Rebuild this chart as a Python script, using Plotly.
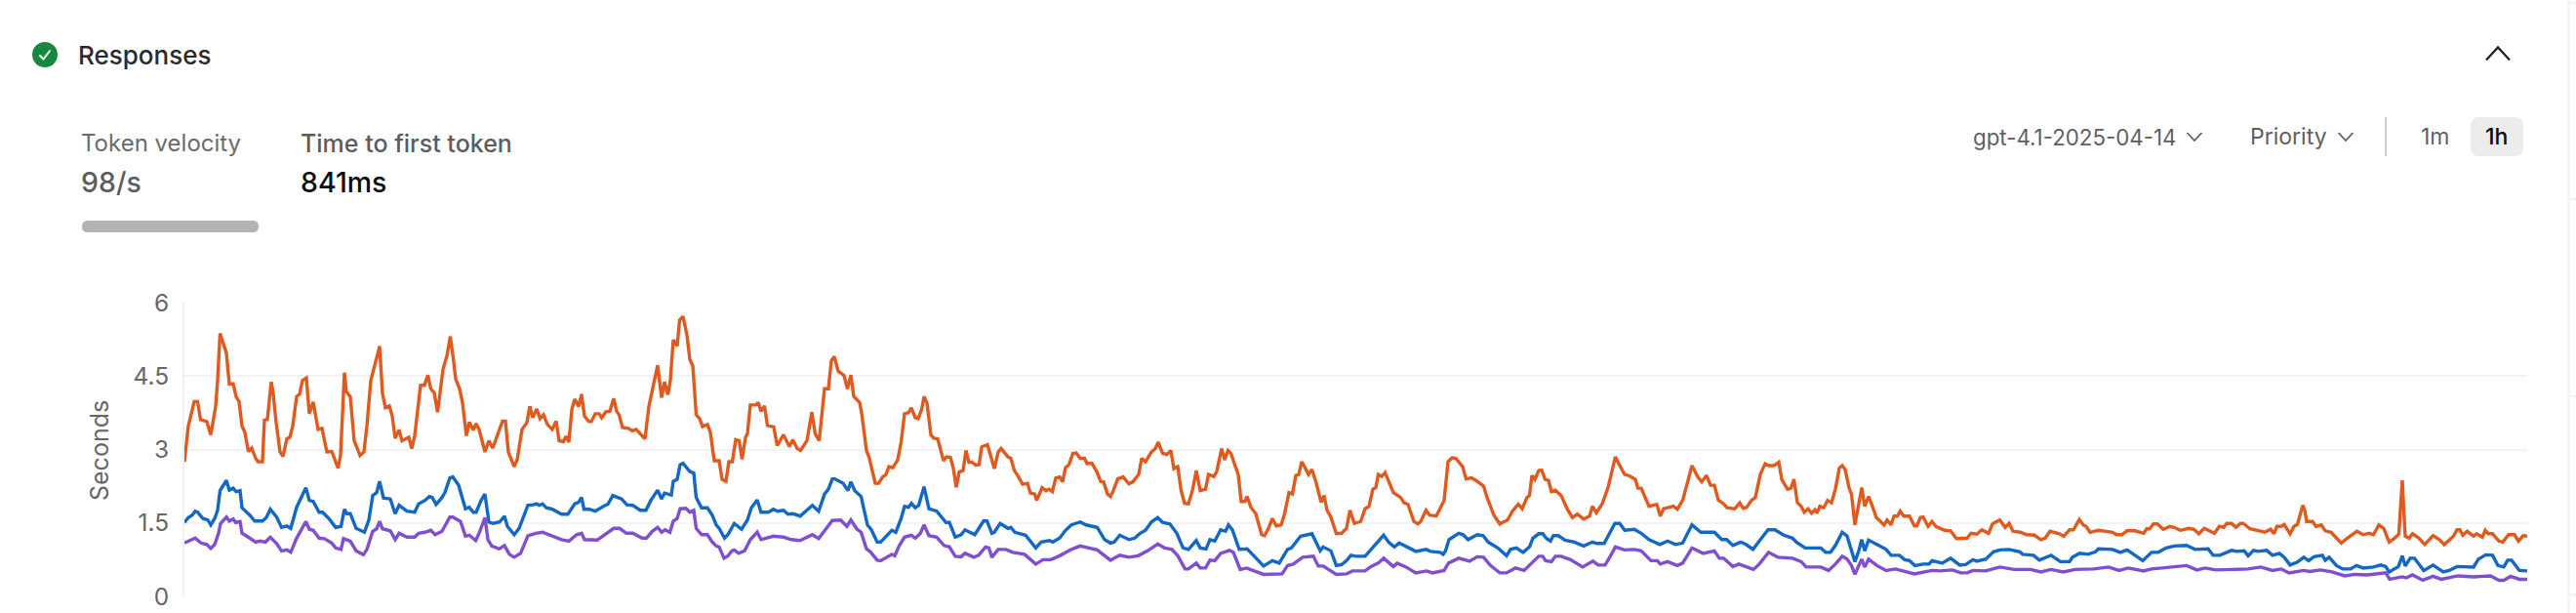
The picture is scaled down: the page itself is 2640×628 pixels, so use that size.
import plotly.graph_objects as go

y_ticks = [0, 1.5, 3, 4.5, 6]
y_tick_labels = ["0", "1.5", "3", "4.5", "6"]

orange_t = [0,4,6.5,10,13.5,16.5,23,27,32,34,36.5,40,43,46,50,53,56,59,62,65.5,69,73,75.5,80,82,85,89,91,94,98,101,105,108,111,115,118,121,125,128,132,137,141,146,151,157.5,160,162,164,166,170,174,180,184,187,191,194,197,200,203,206,210,213,216,220,223,230,233,236,242,246,249.5,252.5,256,259.5,265,269,272.5,275.5,278,282,285,289,292,296,299,302,308,312,316,320,326,329,332,338,341,346,351,354,357,361,364.5,368,372,377,381,384,388.5,391,394,397,400,404,407,410,414.5,417,421,425,427.5,432,436,440,443,445.5,449,455,459,463,472,476,480,485,489,492,495.5,498,501,505,507.5,511,515,518,521,524.5,528,531,536,539,543,548,551,555,558,561.5,565,568.5,571.5,575,577,580,586,588,
591,594.5,597.5,604,607.5,614,620,623.5,628,631.5,638,643,646.5,650.5,656,660,663,666,670,676,679.5,683,686,692,694,699,702,708,711.5,715.5,719,722,726,731,734.5,738,742,745,749,752,755.5,758,761,765,768,772,778,781,785,788,791,794,798,801,804,807,811,814.5,817,823,830,834,837,844,847,850.5,854,859,864,867,871.5,873.5,879,883,886,889.5,893,897,900,903,906.5,910.5,914,918,922.5,925,930,935,939,942,946,949,952,956.5,962,968,972,978,981,985,991,995,998,1002.5,1007,1011,1014,1018,1021.5,1025,1029,1033,1037,1041,1046.5,1049.5,1055,1058,1063,1066,1069.5,1072.5,1080,1083,1087,1089,1093,1098,1104,1107,1111,1115,1119,1124,1127.5,1132,1135.5,1139,1142,1145,1148,1152,1155.5,1159.5,1165,1168,1171,1175,1180.5,1186,
1191,1194.5,1199,1205.5,1210,1214,1218,1221,1223.5,1227,1230.5,1239,1246.5,1250,1254,1260,1264,1267,1272.5,1276,1283,1291,1295,1299,1303,1310,1313.5,1319,1325,1331.5,1335,1342,1348,1356,1361,1367,1371,1376,1378.5,1381,1384,1388,1391,1394.5,1398,1401,1405,1411,1417,1422.5,1427.5,1434,1440,1443,1447,1453,1459,1463.5,1466.5,1470,1476,1480,1487,1489.5,1493,1501,1509,1512.5,1516,1526,1530,1535.5,1540,1545,1551,1555,1560,1564,1568,1572,1577.5,1581,1589,1594,1597.5,1601,1606,1610,1615,1620,1623.5,1629,1634,1637,1643,1646.5,1649.5,1653,1657,1660,1664,1667.5,1671,1673,1676,1680,1684,1688,1692,1696,1699,1702,1706,1708.5,1712,1715.5,1719,1722,1726,1729,1734,1742,1745,1749,1752,1755.5,1758.5,1762,1768,1773,1775.5,1779,1782,1787,
1791,1795,1804,1810,1816,1827,1831,1837,1842,1849,1853,1860.5,1866,1870,1874,1881.5,1888,1896,1902.5,1907,1912,1921.5,1926,1932,1936,1942,1946,1949,1953,1961.5,1976,1980,1985.5,1991,1999,2008,2011,2014,2018,2022,2028,2035,2039,2045.5,2054,2059.5,2064.5,2070,2075,2080.5,2085.5,2090,2093,2098,2102.5,2107,2110,2117,2132,2138,2141.5,2144.5,2149,2152,2158,2162,2165.5,2168.5,2171,2173,2175,2181,2184.5,2190,2194,2200,2205.5,2210.5,2216,2220,2226.5,2233,2239,2243.5,2249,2254,2259.5,2264.5,2269.5,2271,2273,2274.5,2276,2280,2283.5,2290,2296,2304.5,2311,2316,2321,2325.5,2329,2332,2335,2339.5,2346,2349,2355,2358,2361,2365.5,2372,2376,2382,2388,2392,2397,2401]
orange_s = [2.75,3.48,3.68,3.98,3.98,3.61,3.57,3.30,3.88,4.41,5.37,5.14,4.97,4.34,4.34,4.08,3.98,3.48,3.35,2.96,3.03,2.82,2.75,2.75,3.60,3.61,4.38,4.14,3.55,2.95,2.86,3.22,3.25,3.48,4.08,4.13,4.41,4.46,3.73,3.97,3.41,3.43,2.95,2.96,2.62,2.88,3.75,4.57,4.18,4.08,3.18,2.88,2.95,3.48,4.41,4.67,4.87,5.11,4.14,3.85,3.89,3.68,3.23,3.40,3.18,3.25,3.02,3.28,4.31,4.31,4.52,4.24,4.16,3.76,4.64,4.91,5.31,4.87,4.44,4.24,3.95,3.28,3.56,3.40,3.53,3.41,2.95,3.18,3.03,3.25,3.58,3.58,2.95,2.65,2.79,3.41,3.55,3.88,3.65,3.83,3.63,3.71,3.51,3.41,3.58,3.18,3.16,3.27,3.15,3.81,4.03,3.88,4.13,3.68,3.57,3.57,3.73,3.73,3.65,3.77,3.78,4.04,3.78,3.71,3.45,3.43,3.38,3.41,3.22,3.88,4.24,4.72,4.06,4.38,4.12,4.41,5.24,5.11,5.64,5.72,5.34,4.84,4.71,3.71,3.63,3.47,3.51,3.35,2.77,2.77,2.39,2.35,2.75,2.75,3.20,3.18,2.80,3.25,3.32,3.91,3.91,3.96,
3.78,3.89,3.49,3.46,3.08,3.30,3.06,3.20,3.02,2.98,3.18,3.76,3.32,3.18,4.24,4.24,4.81,4.90,4.60,4.51,4.24,4.52,4.08,3.96,3.75,2.98,2.82,2.31,2.31,2.44,2.49,2.65,2.63,2.79,3.15,3.73,3.75,3.85,3.65,3.63,3.81,4.08,3.95,3.30,3.23,3.22,2.77,2.85,2.84,2.62,2.23,2.54,2.57,2.98,2.74,2.74,2.68,2.69,3.05,3.10,2.61,2.95,3.02,2.85,2.82,2.57,2.47,2.29,2.31,2.11,2.09,1.96,2.22,2.16,2.19,2.14,2.42,2.44,2.34,2.63,2.69,2.92,2.93,2.82,2.82,2.71,2.72,2.55,2.35,2.34,2.09,2.04,2.16,2.40,2.44,2.30,2.34,2.49,2.82,2.75,2.95,3.02,3.15,2.92,2.90,2.98,2.61,2.65,2.16,1.90,1.89,2.16,2.57,2.16,2.19,2.49,2.45,2.55,3.02,2.79,2.98,2.92,2.49,1.94,1.94,2.04,1.82,1.69,1.26,1.24,1.39,1.59,1.44,1.46,1.69,2.12,2.09,2.47,2.49,2.75,2.65,2.49,2.59,2.35,1.92,2.06,1.76,1.62,1.28,1.29,
1.39,1.76,1.49,1.53,1.79,1.84,2.19,2.22,2.49,2.45,2.53,2.12,2.02,1.91,1.88,1.53,1.48,1.53,1.76,1.66,1.64,1.96,2.75,2.83,2.82,2.65,2.40,2.42,2.35,2.25,2.02,1.66,1.48,1.56,1.74,1.88,1.79,2.02,2.06,2.47,2.39,2.57,2.58,2.39,2.37,2.14,2.17,2.06,1.79,1.61,1.68,1.58,1.64,1.84,1.71,1.89,2.22,2.62,2.85,2.71,2.49,2.47,2.39,2.21,2.21,1.84,1.88,1.64,1.79,1.84,1.78,1.96,2.29,2.67,2.44,2.34,2.47,2.27,2.27,1.97,1.89,1.81,1.79,1.91,1.80,1.82,1.96,2.02,2.49,2.71,2.67,2.67,2.74,2.39,2.19,2.21,2.39,1.92,1.84,1.72,1.79,1.70,1.77,1.70,1.84,1.81,1.96,1.91,2.19,2.62,2.67,2.59,2.22,2.09,1.46,1.89,2.22,1.84,2.04,1.89,1.61,1.46,1.56,1.46,1.64,1.64,1.74,1.64,1.64,1.44,1.44,1.61,1.62,1.43,
1.53,1.43,1.35,1.34,1.18,1.19,1.29,1.27,1.36,1.29,1.48,1.56,1.41,1.49,1.33,1.31,1.26,1.25,1.16,1.19,1.33,1.28,1.23,1.36,1.36,1.57,1.46,1.43,1.31,1.35,1.31,1.26,1.26,1.34,1.34,1.29,1.38,1.38,1.48,1.48,1.37,1.43,1.41,1.35,1.39,1.37,1.28,1.39,1.35,1.29,1.43,1.41,1.49,1.49,1.41,1.49,1.49,1.38,1.31,1.37,1.28,1.43,1.43,1.47,1.28,1.43,1.47,1.66,1.86,1.76,1.53,1.53,1.43,1.46,1.34,1.31,1.19,1.09,1.18,1.23,1.33,1.26,1.29,1.26,1.46,1.39,1.11,1.18,1.27,1.76,2.37,1.76,1.23,1.19,1.28,1.19,1.06,1.24,1.16,1.06,1.16,1.23,1.36,1.36,1.25,1.33,1.23,1.28,1.21,1.35,1.28,1.28,1.13,1.11,1.26,1.26,1.13,1.24,1.23]

blue_t = [0,4,8,11,13.5,19,24,27,31,34,36.5,43,46,50,53,57,59,67,72,80,84,88,94.5,99.5,105,109,115,124.5,128,132,138,141.5,148,155,160.5,164,166.5,170,176,184.5,189,193,197,200,204,211,216,220,228,236,240,246.5,251,254,258,264,267,272,275,281,288,292,296,299,304,308,312,316,323,328,331,338,343,352,357.5,361,363.5,367,371,377,386.5,393,400,404,407,409.5,415,421,431,434,439,448,453.5,459.5,467,473,478,485,489,492,499,501,505,508,511,518,522,524.5,530,536,541,545,548,553.5,557,563.5,571,577,581,587,
591,598.5,603.5,608,614,618.5,623.5,631,639,643.5,650,656,660,664,666.5,675,680,683,687,693.5,700,704,710,713.5,725,729,734.5,738,742,745,749,752.5,758,763,771,777,780.5,784,790,796,800,810,819,822.5,827.5,830,836,844,847,851,862,872.5,878,886.5,890,897,903,909,918,924,935.5,943,949,953,958.5,968,974,979.5,985,991,997.5,1002.5,1010,1017,1023.5,1029,1037,1041,1047,1051,1056,1062,1067,1070,1074,1081,1089,1096,1106,1115,1122,1130.5,1134.5,1144,1155.5,1164,1167,1175,1180.5,1186,
1191,1195.5,1200.5,1210,1217,1223.5,1229,1234,1240,1245,1254,1262,1272.5,1277,1287,1290,1292.5,1296,1306,1310.5,1315.5,1325,1331,1336,1346,1355,1359,1365,1372,1378.5,1382,1388,1392,1396,1400,1403,1408,1415,1424.5,1434,1443,1447.5,1455,1461,1466,1471,1476,1486,1493,1501,1512,1520,1528,1535.5,1545,1554,1568,1575.5,1580.5,1587,1595,1600.5,1607.5,1614,1623,1630,1639,1648,1652,1661,1677,1682,1687,1692,1699,1704,1708.5,1712,1715.5,1719,1722,1726,1734.5,1744,1749,1757.5,1763,1768,1773.5,1782,1788,
1791,1801.5,1810,1819.5,1825.5,1833,1837,1846,1854,1860.5,1870,1881,1884,1895,1901,1913,1922.5,1932,1935,1942.5,1951,1958.5,1961.5,1976,1984,1991,2007,2016,2023,2031,2039,2052,2060.5,2074,2079,2086,2098,2103,2111,2115,2120.5,2125,2134,2140,2147,2152,2158,2165.5,2172,2177,2182.5,2191,2194,2198,2205.5,2212,2220,2226,2233,2243.5,2251,2256,2259.5,2269,2273,2276,2281,2285.5,2295,2304.5,2315,2321,2329,2346,2351,2358.5,2365.5,2371,2377,2381,2385,2393,2401]
blue_s = [1.51,1.61,1.66,1.74,1.72,1.59,1.56,1.46,1.59,1.76,2.16,2.37,2.17,2.21,2.14,2.16,1.81,1.66,1.54,1.54,1.61,1.78,1.62,1.41,1.44,1.39,1.82,2.22,1.96,1.94,1.72,1.72,1.59,1.41,1.43,1.78,1.69,1.69,1.39,1.31,1.56,2.06,2.12,2.35,2.01,1.99,1.69,1.86,1.74,1.72,1.89,1.96,2.04,2.02,1.88,2.02,2.12,2.42,2.44,2.27,1.79,1.82,1.72,1.72,1.96,2.09,1.52,1.49,1.52,1.64,1.43,1.26,1.39,1.86,1.87,1.89,1.86,1.89,1.81,1.78,1.68,1.68,1.89,1.92,2.02,1.78,1.78,1.74,1.86,1.88,2.06,1.99,1.87,1.86,1.76,1.76,1.96,2.17,1.99,2.11,2.07,2.35,2.39,2.69,2.72,2.55,2.52,2.02,1.81,1.81,1.66,1.46,1.39,1.19,1.26,1.49,1.37,1.56,1.81,1.97,
1.72,1.72,1.78,1.74,1.76,1.68,1.69,1.64,1.78,1.86,1.74,2.09,2.19,2.40,2.40,2.31,2.16,2.34,2.16,2.04,1.46,1.36,1.11,1.11,1.35,1.31,1.59,1.84,1.82,1.90,1.81,1.86,2.24,1.79,1.74,1.59,1.51,1.51,1.21,1.26,1.36,1.26,1.54,1.54,1.29,1.31,1.49,1.39,1.41,1.31,1.25,0.99,1.11,1.14,1.11,1.19,1.35,1.46,1.52,1.46,1.41,1.16,1.09,1.11,1.25,1.16,1.19,1.29,1.35,1.52,1.61,1.51,1.48,1.29,0.99,0.96,1.14,0.99,0.97,1.16,1.13,1.36,1.33,1.46,1.36,0.96,0.97,0.83,0.62,0.73,0.68,0.96,0.99,1.23,1.28,0.93,1.01,0.93,0.63,0.65,
0.73,0.84,0.82,0.82,0.97,1.13,1.25,1.11,1.01,1.09,0.99,0.92,0.96,0.92,0.90,0.86,0.93,1.16,1.29,1.26,1.16,1.26,1.24,1.11,0.99,0.83,0.96,0.99,0.90,1.01,1.19,1.28,1.28,1.18,1.13,1.24,1.24,1.15,1.11,1.03,1.11,1.08,1.08,1.29,1.49,1.49,1.35,1.37,1.29,1.16,1.06,1.13,1.06,1.09,1.46,1.31,1.31,1.16,1.16,1.04,1.11,1.06,0.96,1.13,1.36,1.36,1.25,1.19,1.11,0.99,0.99,0.90,0.90,1.04,1.31,1.23,0.96,0.71,0.90,1.16,0.93,1.15,1.06,0.96,0.84,0.84,0.75,0.73,0.63,0.66,0.66,
0.73,0.68,0.78,0.64,0.65,0.75,0.72,0.76,0.91,0.95,0.96,0.91,0.86,0.84,0.74,0.84,0.71,0.71,0.80,0.88,0.86,0.91,0.97,0.96,0.90,0.95,0.73,0.90,0.90,0.99,1.03,1.04,0.96,0.97,0.84,0.84,0.94,0.92,0.93,0.83,0.94,0.92,0.94,0.84,0.88,0.80,0.64,0.70,0.80,0.73,0.81,0.84,0.74,0.80,0.63,0.56,0.56,0.63,0.58,0.60,0.64,0.61,0.50,0.61,0.83,0.62,0.78,0.78,0.53,0.64,0.50,0.53,0.61,0.60,0.76,0.85,0.84,0.63,0.60,0.74,0.74,0.53,0.52]

purple_t = [0,6,11,17,23,27,31,35,37,43,46,50,52.5,57,59,67,73,77.5,83,88,94.5,99.5,105,109,115,124.5,128,132,138,143.5,151,155,160.5,163,170,176,183.5,187,193,197,200,203,211,216,220,228,236,240,246.5,252.5,257,264,272,275,283,288,292,298.5,302,308,311,315,322.5,328,333,338,344.5,352,360,367,377,386.5,394,402,407,410,423,440,446,453,459.5,469,473.5,479.5,485,489,492.5,497.5,501,505,508,514,518,522,524.5,530,536,541,545,548,553,557,561,563.5,568,574,580,587,
591,603.5,614,622,631,637,643.5,650,656,660,664,672.5,679,683,689,693.5,699,703,710,713.5,725,728,732.5,738,745,749,754,758,763,771,778.5,784,790,796,800,809,814,821,824.5,827.5,834,842,849,861,872.5,880,888,897,909,918,935.5,949,958.5,968,977.5,987,997.5,1004.5,1012,1018,1025.5,1029,1037,1041,1046.5,1051,1056,1062,1071,1075,1082,1088.5,1096,1106,1125,1130.5,1136.5,1146,1157,1162,1167,1175,1180.5,
1191,1197,1210,1216,1223.5,1229,1239,1243,1252,1262,1273,1279,1291,1295.5,1306,1317,1325,1331.5,1338.5,1348,1355,1364,1373,1378.5,1388,1392,1395,1401,1405,1411,1420.5,1433,1443.5,1449,1456,1461,1466.5,1476,1486,1493,1503,1509.5,1512.5,1520,1530,1535.5,1545,1556.5,1568,1573,1577.5,1587,1593,1608,1614,1623.5,1633,1648,1657,1662,1677,1685,1692,1699,1704,1708.5,1712,1716,1719,1722,1726,1734.5,1744,1753.5,1763,1773,
1791,1799.5,1812,1820.5,1827,1833,1846,1860.5,1875,1892,1902.5,1913,1925.5,1938,1957,1972,1982.5,1992,2008,2016,2027,2052,2062.5,2071,2081.5,2115,2128,2140,2149,2157,2172,2178,2189,2201,2214,2224.5,2237,2256,2260,2273,2277,2283.5,2294,2304.5,2313,2330,2346.5,2363.5,2372,2377,2384,2393,2401]
purple_s = [1.09,1.14,1.19,1.09,1.06,0.98,1.06,1.29,1.49,1.62,1.54,1.58,1.51,1.53,1.29,1.19,1.11,1.13,1.11,1.21,1.08,0.93,0.95,0.90,1.19,1.53,1.37,1.35,1.19,1.18,1.09,0.99,0.96,1.18,1.13,0.93,0.85,0.96,1.33,1.38,1.53,1.38,1.34,1.16,1.29,1.21,1.21,1.29,1.31,1.35,1.26,1.33,1.62,1.62,1.53,1.23,1.25,1.14,1.29,1.61,1.16,1.03,0.97,1.04,0.86,0.80,0.88,1.24,1.29,1.31,1.23,1.16,1.13,1.26,1.29,1.16,1.15,1.39,1.39,1.29,1.29,1.19,1.19,1.33,1.41,1.31,1.36,1.31,1.54,1.59,1.79,1.80,1.72,1.76,1.39,1.26,1.26,1.11,1.03,1.01,0.78,0.83,0.93,0.95,0.88,0.93,1.16,1.31,
1.16,1.23,1.21,1.16,1.14,1.19,1.26,1.18,1.33,1.43,1.55,1.56,1.43,1.56,1.38,1.31,0.97,0.91,0.74,0.73,0.86,0.83,1.03,1.21,1.25,1.19,1.28,1.46,1.24,1.21,1.04,1.01,0.82,0.81,0.88,0.80,0.84,1.01,0.99,0.80,0.96,0.96,0.90,0.86,0.66,0.75,0.75,0.83,0.96,1.03,0.95,0.74,0.84,0.80,0.83,0.93,1.07,0.99,0.96,0.83,0.56,0.56,0.68,0.58,0.58,0.74,0.73,0.88,0.94,0.90,0.55,0.58,0.53,0.45,0.46,0.63,0.66,0.80,0.82,0.62,0.62,0.53,0.45,
0.46,0.52,0.52,0.61,0.68,0.78,0.61,0.68,0.60,0.48,0.52,0.48,0.53,0.68,0.78,0.72,0.81,0.80,0.63,0.48,0.48,0.58,0.53,0.63,0.82,0.82,0.73,0.71,0.82,0.82,0.75,0.60,0.72,0.64,0.64,0.81,1.01,0.95,0.96,0.93,0.73,0.73,0.66,0.71,0.63,0.68,0.99,0.88,0.93,0.78,0.78,0.61,0.66,0.55,0.66,0.90,0.80,0.78,0.71,0.60,0.60,0.53,0.66,0.82,0.76,0.63,0.45,0.63,0.76,0.60,0.76,0.63,0.53,0.56,0.51,0.46,
0.53,0.52,0.54,0.48,0.48,0.53,0.52,0.60,0.55,0.55,0.50,0.55,0.50,0.55,0.56,0.60,0.53,0.58,0.52,0.56,0.58,0.63,0.54,0.58,0.54,0.56,0.60,0.53,0.56,0.48,0.53,0.51,0.54,0.50,0.42,0.45,0.44,0.48,0.35,0.40,0.38,0.44,0.33,0.41,0.35,0.42,0.40,0.42,0.33,0.33,0.41,0.35,0.35]

W, H = 2640, 628
L, R, T, B = 189, 2590, 310, 611
FONT = "Inter, 'Noto Sans', sans-serif"

def px(x):
    return (x - L) / (R - L)

def py(y):
    return (B - y) / (B - T)

fig = go.Figure()
for t, s, c, name in [(orange_t, orange_s, "#e05a1f", "p99"),
                      (blue_t, blue_s, "#1268c4", "p90"),
                      (purple_t, purple_s, "#7f4fd0", "p50")]:
    fig.add_trace(go.Scatter(x=t, y=s, mode="lines", name=name,
                             line=dict(color=c, width=3.4, shape="linear"),
                             hoverinfo="skip"))

def label(x, y, text, size, color, anchor="left", weight=400, **kw):
    fig.add_annotation(xref="paper", yref="paper", x=px(x), y=py(y), text=text,
                       showarrow=False, xanchor=anchor, yanchor="middle",
                       font=dict(family=FONT, size=size, color=color, weight=weight),
                       borderpad=0, **kw)

def path(d, color, width):
    fig.add_shape(type="path", xref="paper", yref="paper", path=d,
                  line=dict(color=color, width=width))

def chevron(cx, cy, w, h, up, color, width):
    top, bot = (cy - h / 2, cy + h / 2)
    a, b = (bot, top) if up else (top, bot)
    d = f"M {px(cx - w / 2)} {py(a)} L {px(cx)} {py(b)} L {px(cx + w / 2)} {py(a)}"
    path(d, color, width)

def round_rect(x0, y0, x1, y1, r, color):
    d = (f"M {px(x0 + r)} {py(y0)} L {px(x1 - r)} {py(y0)} "
         f"Q {px(x1)} {py(y0)} {px(x1)} {py(y0 + r)} L {px(x1)} {py(y1 - r)} "
         f"Q {px(x1)} {py(y1)} {px(x1 - r)} {py(y1)} L {px(x0 + r)} {py(y1)} "
         f"Q {px(x0)} {py(y1)} {px(x0)} {py(y1 - r)} L {px(x0)} {py(y0 + r)} "
         f"Q {px(x0)} {py(y0)} {px(x0 + r)} {py(y0)} Z")
    fig.add_shape(type="path", xref="paper", yref="paper", path=d, fillcolor=color,
                  line=dict(width=0), layer="below")

def edge(x0, y0, x1, y1):
    fig.add_shape(type="line", xref="paper", yref="paper", x0=px(x0), x1=px(x1),
                  y0=py(y0), y1=py(y1), line=dict(color="#f4f4f4", width=2.5))

# header
fig.add_shape(type="circle", xref="paper", yref="paper", x0=px(33), x1=px(59),
              y0=py(69), y1=py(43), fillcolor="#16883f", line=dict(width=0))
path(f"M {px(40.5)} {py(56.5)} L {px(44.5)} {py(60.5)} L {px(51.5)} {py(51.5)}", "#ffffff", 2)
label(78.5, 56, "Responses", 26, "#2a2a2a", weight=500)
chevron(2560, 55, 24, 13, True, "#232323", 2.4)

# metric tabs
label(82, 147, "Token velocity", 24, "#6b6b6b")
label(82, 186, "98/s", 28.5, "#5c5c5c", weight=500)
label(307, 147, "Time to first token", 25, "#5c5c5c", weight=500)
label(307, 186, "841ms", 28.5, "#0d0d0d", weight=500)
round_rect(84, 226, 265, 238, 6, "#b3b3b3")

# controls
label(2020.5, 140, "gpt-4.1-2025-04-14", 22.3, "#5f5f5f")
chevron(2249, 140, 15, 8, False, "#5f5f5f", 1.8)
label(2304.5, 140, "Priority", 23, "#5f5f5f")
chevron(2404, 140, 15, 8, False, "#5f5f5f", 1.8)
fig.add_shape(type="line", xref="paper", yref="paper", x0=px(2445), x1=px(2445),
              y0=py(120), y1=py(160), line=dict(color="#cfcfcf", width=2))
label(2496, 140, "1m", 23, "#5f5f5f", anchor="center")
round_rect(2532, 120, 2586, 160, 9, "#ececec")
label(2558, 140, "1h", 23, "#0d0d0d", anchor="center", weight=500)

# neighbouring panel edge at the right of the page
edge(2632.5, 0, 2632.5, 628)
for yy in (3, 204, 406, 609):
    edge(2632, yy, 2640, yy)

# axis title
label(102, 462, "Seconds", 25, "#666666", anchor="center", textangle=-90)

fig.update_layout(
    width=W, height=H, paper_bgcolor="#ffffff", plot_bgcolor="#ffffff",
    showlegend=False,
    margin=dict(l=L, r=W - R, t=T, b=H - B, pad=0),
    font=dict(family=FONT),
    xaxis=dict(range=[0, 2401], showgrid=False, zeroline=False, showticklabels=False,
               ticks="", showline=False, automargin=False),
    yaxis=dict(range=[0, 6], tickvals=y_ticks, ticktext=y_tick_labels,
               ticks="outside", ticklen=9, tickcolor="rgba(0,0,0,0)",
               gridcolor="#f3f3f3", gridwidth=2, zeroline=False, showline=True,
               linecolor="#f0f0f0", linewidth=2, automargin=False,
               tickfont=dict(family=FONT, size=24.5, color="#666666")),
)
fig.write_html("out.html", config={"displayModeBar": False},
               post_script="document.body.style.margin='0';document.body.style.overflow='hidden';")
